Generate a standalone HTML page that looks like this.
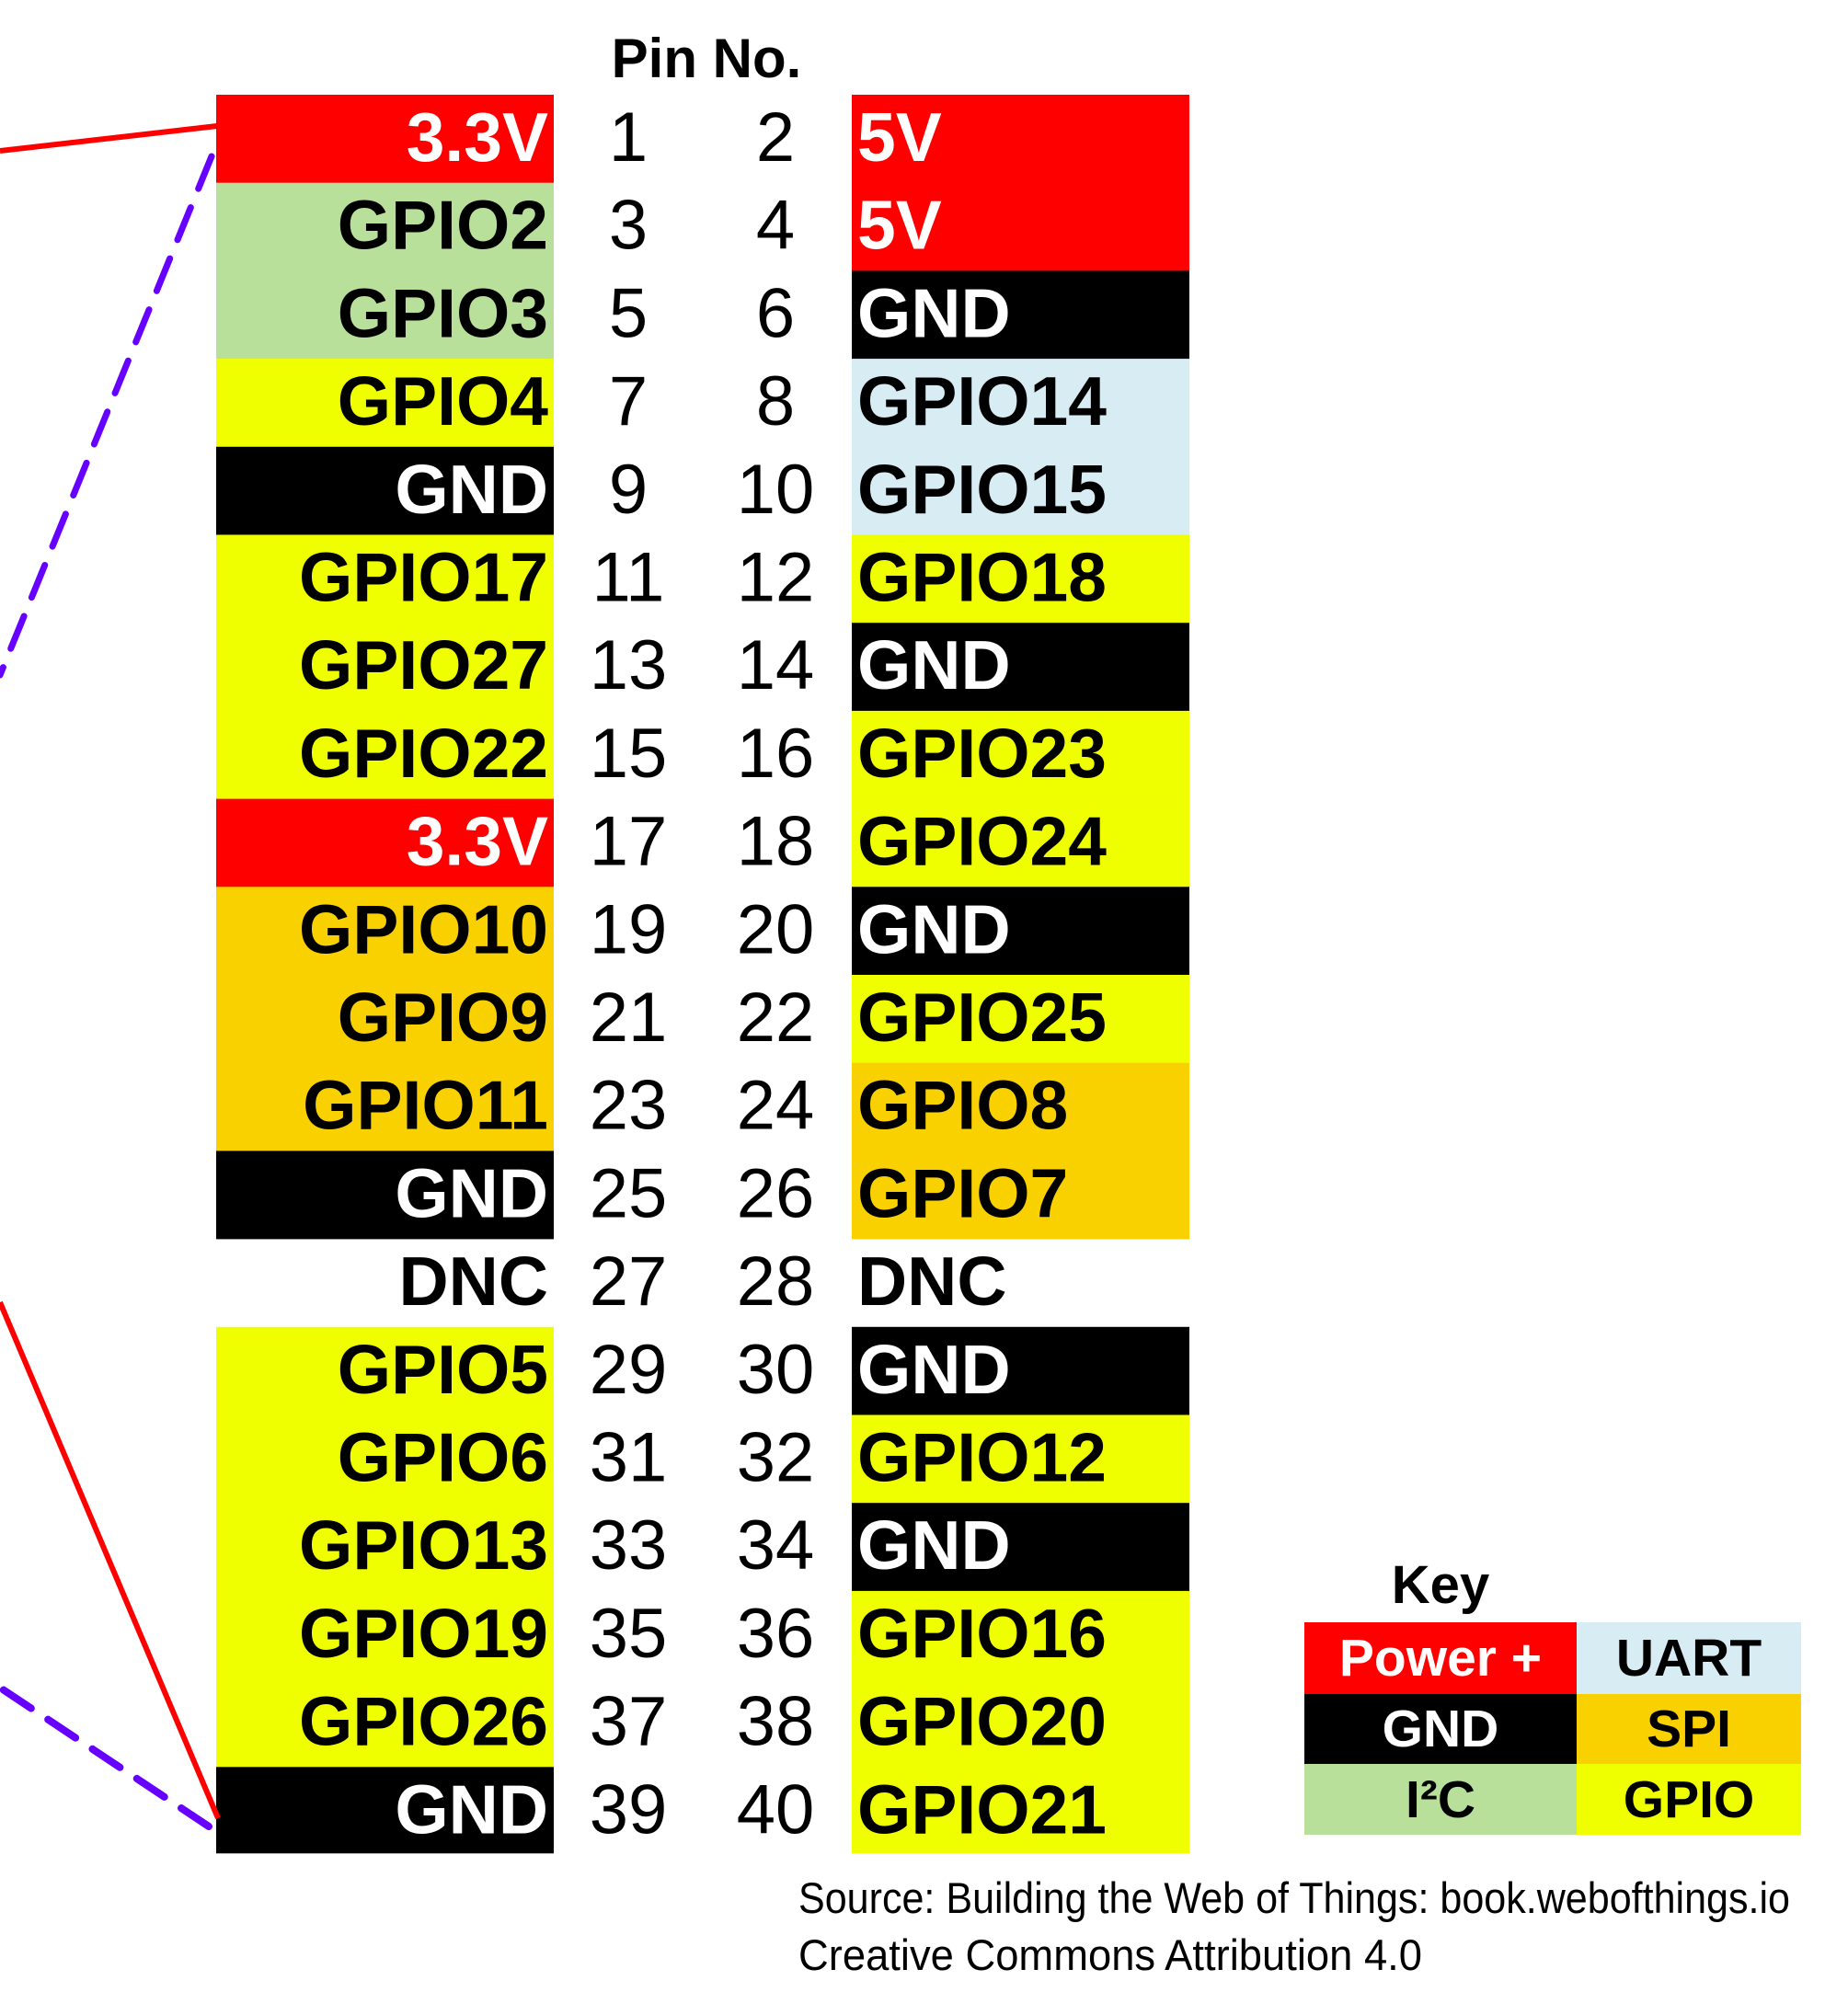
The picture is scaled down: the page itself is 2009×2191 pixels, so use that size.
<!DOCTYPE html>
<html><head><meta charset="utf-8"><style>html,body{margin:0;padding:0;background:#fff}svg{display:block}
.l{font-family:"Liberation Sans",sans-serif;font-weight:bold;font-size:75px;text-anchor:end}
.r{font-family:"Liberation Sans",sans-serif;font-weight:bold;font-size:75px}
.n{font-family:"Liberation Sans",sans-serif;font-size:76px;text-anchor:middle;fill:#000}
.w{fill:#fff}.b{fill:#000}
</style></head>
<body>
<svg xmlns="http://www.w3.org/2000/svg" width="2009" height="2191" viewBox="0 0 2009 2191">
<rect width="2009" height="2191" fill="#fff"/>
<!-- left column -->
<rect x="235" y="103" width="367" height="96" fill="#ff0000"/>
<rect x="235" y="198.7" width="367" height="96" fill="#b8e09a"/>
<rect x="235" y="294.4" width="367" height="96" fill="#b8e09a"/>
<rect x="235" y="390.1" width="367" height="96" fill="#f0ff00"/>
<rect x="235" y="485.8" width="367" height="96" fill="#000"/>
<rect x="235" y="581.5" width="367" height="96" fill="#f0ff00"/>
<rect x="235" y="677.2" width="367" height="96" fill="#f0ff00"/>
<rect x="235" y="772.9" width="367" height="96" fill="#f0ff00"/>
<rect x="235" y="868.6" width="367" height="96" fill="#ff0000"/>
<rect x="235" y="964.3" width="367" height="96" fill="#f9d000"/>
<rect x="235" y="1060" width="367" height="96" fill="#f9d000"/>
<rect x="235" y="1155.7" width="367" height="96" fill="#f9d000"/>
<rect x="235" y="1251.4" width="367" height="96" fill="#000"/>
<rect x="235" y="1442.8" width="367" height="96" fill="#f0ff00"/>
<rect x="235" y="1538.5" width="367" height="96" fill="#f0ff00"/>
<rect x="235" y="1634.2" width="367" height="96" fill="#f0ff00"/>
<rect x="235" y="1729.9" width="367" height="96" fill="#f0ff00"/>
<rect x="235" y="1825.6" width="367" height="96" fill="#f0ff00"/>
<rect x="235" y="1921.3" width="367" height="94" fill="#000"/>
<!-- right column -->
<rect x="926" y="103" width="367" height="96" fill="#ff0000"/>
<rect x="926" y="198.7" width="367" height="96" fill="#ff0000"/>
<rect x="926" y="294.4" width="367" height="96" fill="#000"/>
<rect x="926" y="390.1" width="367" height="96" fill="#d8ecf3"/>
<rect x="926" y="485.8" width="367" height="96" fill="#d8ecf3"/>
<rect x="926" y="581.5" width="367" height="96" fill="#f0ff00"/>
<rect x="926" y="677.2" width="367" height="96" fill="#000"/>
<rect x="926" y="772.9" width="367" height="96" fill="#f0ff00"/>
<rect x="926" y="868.6" width="367" height="96" fill="#f0ff00"/>
<rect x="926" y="964.3" width="367" height="96" fill="#000"/>
<rect x="926" y="1060" width="367" height="96" fill="#f0ff00"/>
<rect x="926" y="1155.7" width="367" height="96" fill="#f9d000"/>
<rect x="926" y="1251.4" width="367" height="96" fill="#f9d000"/>
<rect x="926" y="1442.8" width="367" height="96" fill="#000"/>
<rect x="926" y="1538.5" width="367" height="96" fill="#f0ff00"/>
<rect x="926" y="1634.2" width="367" height="96" fill="#000"/>
<rect x="926" y="1729.9" width="367" height="96" fill="#f0ff00"/>
<rect x="926" y="1825.6" width="367" height="96" fill="#f0ff00"/>
<rect x="926" y="1921.3" width="367" height="94" fill="#f0ff00"/>

<text class="l w" x="596" y="175">3.3V</text>
<text class="l b" x="596" y="270.7">GPIO2</text>
<text class="l b" x="596" y="366.4">GPIO3</text>
<text class="l b" x="596" y="462.1">GPIO4</text>
<text class="l w" x="596" y="557.8">GND</text>
<text class="l b" x="596" y="653.5">GPIO17</text>
<text class="l b" x="596" y="749.2">GPIO27</text>
<text class="l b" x="596" y="844.9">GPIO22</text>
<text class="l w" x="596" y="940.6">3.3V</text>
<text class="l b" x="596" y="1036.3">GPIO10</text>
<text class="l b" x="596" y="1132">GPIO9</text>
<text class="l b" x="596" y="1227.7">GPIO11</text>
<text class="l w" x="596" y="1323.4">GND</text>
<text class="l b" x="596" y="1419.1">DNC</text>
<text class="l b" x="596" y="1514.8">GPIO5</text>
<text class="l b" x="596" y="1610.5">GPIO6</text>
<text class="l b" x="596" y="1706.2">GPIO13</text>
<text class="l b" x="596" y="1801.9">GPIO19</text>
<text class="l b" x="596" y="1897.6">GPIO26</text>
<text class="l w" x="596" y="1993.3">GND</text>

<text class="r w" x="932" y="175">5V</text>
<text class="r w" x="932" y="270.7">5V</text>
<text class="r w" x="932" y="366.4">GND</text>
<text class="r b" x="932" y="462.1">GPIO14</text>
<text class="r b" x="932" y="557.8">GPIO15</text>
<text class="r b" x="932" y="653.5">GPIO18</text>
<text class="r w" x="932" y="749.2">GND</text>
<text class="r b" x="932" y="844.9">GPIO23</text>
<text class="r b" x="932" y="940.6">GPIO24</text>
<text class="r w" x="932" y="1036.3">GND</text>
<text class="r b" x="932" y="1132">GPIO25</text>
<text class="r b" x="932" y="1227.7">GPIO8</text>
<text class="r b" x="932" y="1323.4">GPIO7</text>
<text class="r b" x="932" y="1419.1">DNC</text>
<text class="r w" x="932" y="1514.8">GND</text>
<text class="r b" x="932" y="1610.5">GPIO12</text>
<text class="r w" x="932" y="1706.2">GND</text>
<text class="r b" x="932" y="1801.9">GPIO16</text>
<text class="r b" x="932" y="1897.6">GPIO20</text>
<text class="r b" x="932" y="1993.3">GPIO21</text>

<text class="n" x="683" y="175">1</text><text class="n" x="843" y="175">2</text>
<text class="n" x="683" y="270.7">3</text><text class="n" x="843" y="270.7">4</text>
<text class="n" x="683" y="366.4">5</text><text class="n" x="843" y="366.4">6</text>
<text class="n" x="683" y="462.1">7</text><text class="n" x="843" y="462.1">8</text>
<text class="n" x="683" y="557.8">9</text><text class="n" x="843" y="557.8">10</text>
<text class="n" x="683" y="653.5">11</text><text class="n" x="843" y="653.5">12</text>
<text class="n" x="683" y="749.2">13</text><text class="n" x="843" y="749.2">14</text>
<text class="n" x="683" y="844.9">15</text><text class="n" x="843" y="844.9">16</text>
<text class="n" x="683" y="940.6">17</text><text class="n" x="843" y="940.6">18</text>
<text class="n" x="683" y="1036.3">19</text><text class="n" x="843" y="1036.3">20</text>
<text class="n" x="683" y="1132">21</text><text class="n" x="843" y="1132">22</text>
<text class="n" x="683" y="1227.7">23</text><text class="n" x="843" y="1227.7">24</text>
<text class="n" x="683" y="1323.4">25</text><text class="n" x="843" y="1323.4">26</text>
<text class="n" x="683" y="1419.1">27</text><text class="n" x="843" y="1419.1">28</text>
<text class="n" x="683" y="1514.8">29</text><text class="n" x="843" y="1514.8">30</text>
<text class="n" x="683" y="1610.5">31</text><text class="n" x="843" y="1610.5">32</text>
<text class="n" x="683" y="1706.2">33</text><text class="n" x="843" y="1706.2">34</text>
<text class="n" x="683" y="1801.9">35</text><text class="n" x="843" y="1801.9">36</text>
<text class="n" x="683" y="1897.6">37</text><text class="n" x="843" y="1897.6">38</text>
<text class="n" x="683" y="1993.3">39</text><text class="n" x="843" y="1993.3">40</text>

<line x1="0" y1="164" x2="236" y2="137" stroke="#ff0000" stroke-width="6"/>
<line x1="0" y1="1416" x2="237" y2="1977" stroke="#ff0000" stroke-width="6"/>
<line x1="230" y1="170" x2="0" y2="734" stroke="#6600ff" stroke-width="7" stroke-linecap="round" stroke-dasharray="38 22"/>
<line x1="227" y1="1986" x2="0" y2="1835" stroke="#6600ff" stroke-width="8" stroke-linecap="round" stroke-dasharray="36 22"/>
<text x="768" y="84" font-family="Liberation Sans, sans-serif" font-weight="bold" font-size="60" text-anchor="middle" fill="#000">Pin No.</text>
<g font-family="Liberation Sans, sans-serif" font-weight="bold" font-size="57" text-anchor="middle">
<text x="1566" y="1743" font-size="58" fill="#000">Key</text>
<rect x="1418" y="1764" width="296" height="78" fill="#ff0000"/>
<rect x="1714" y="1764" width="244" height="78" fill="#d8ecf3"/>
<rect x="1418" y="1842" width="296" height="76" fill="#000"/>
<rect x="1714" y="1842" width="244" height="76" fill="#f9d000"/>
<rect x="1418" y="1918" width="296" height="77" fill="#b8e09a"/>
<rect x="1714" y="1918" width="244" height="77" fill="#f0ff00"/>
<text x="1566" y="1822" fill="#fff">Power +</text>
<text x="1836" y="1822" fill="#000">UART</text>
<text x="1566" y="1899" fill="#fff">GND</text>
<text x="1836" y="1899" fill="#000">SPI</text>
<text x="1566" y="1976" fill="#000">I²C</text>
<text x="1836" y="1976" fill="#000">GPIO</text>
</g>
<g font-family="Liberation Sans, sans-serif" font-size="47" fill="#000">
<text x="868" y="2080" textLength="1078" lengthAdjust="spacingAndGlyphs">Source: Building the Web of Things: book.webofthings.io</text>
<text x="868" y="2142" textLength="678" lengthAdjust="spacingAndGlyphs">Creative Commons Attribution 4.0</text>
</g>
</svg>
</body></html>
